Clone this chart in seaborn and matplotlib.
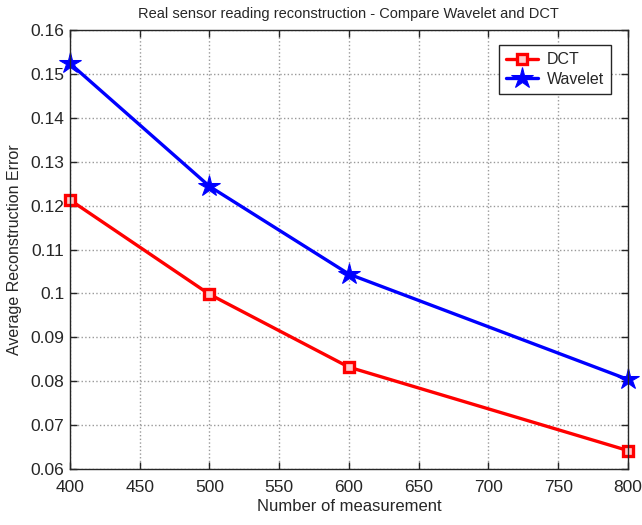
import matplotlib
matplotlib.use("Agg")
import matplotlib.pyplot as plt
import matplotlib.ticker as mticker
import pandas as pd
import seaborn as sns

measurements = [400, 500, 600, 800]
dct_error = [0.1213, 0.0998, 0.0832, 0.0642]
wavelet_error = [0.1524, 0.1244, 0.1044, 0.0804]

sns.set_style("ticks")
plt.rcParams['font.family'] = ['Liberation Sans', 'DejaVu Sans']

df_dct = pd.DataFrame({'m': measurements, 'err': dct_error})
df_wav = pd.DataFrame({'m': measurements, 'err': wavelet_error})

fig = plt.figure(figsize=(6.42, 5.25), dpi=100)
ax = fig.add_axes([0.109, 0.1067, 0.869, 0.836])

sns.lineplot(data=df_dct, x='m', y='err', ax=ax, color='red', lw=2.4,
             marker='s', markersize=7, markerfacecolor='#ffcccc',
             markeredgecolor='red', markeredgewidth=2.4, label='DCT', clip_on=False)
sns.lineplot(data=df_wav, x='m', y='err', ax=ax, color='blue', lw=2.4,
             marker='*', markersize=16, markerfacecolor='blue',
             markeredgecolor='blue', label='Wavelet', clip_on=False)

ax.set_xlim(400, 800)
ax.set_ylim(0.06, 0.16)
ax.set_xticks(range(400, 801, 50))
ax.set_yticks([0.06 + 0.01 * i for i in range(11)])
ax.yaxis.set_major_formatter(mticker.FuncFormatter(lambda v, p: f"{v:g}"))
ax.tick_params(direction='in', top=True, right=True, labelsize=12.5, length=5,
               width=1, colors='#262626')
ax.tick_params(axis='x', pad=8)
ax.tick_params(axis='y', pad=4)
ax.grid(True, linestyle=':', color='#999999', linewidth=1)
for s in ax.spines.values():
    s.set_color('#262626')
    s.set_linewidth(1)

ax.set_xlabel('Number of measurement', fontsize=12, labelpad=3)
ax.set_ylabel('Average Reconstruction Error', fontsize=11.5, labelpad=6)
ax.set_title('Real sensor reading reconstruction - Compare Wavelet and DCT',
             fontsize=10.5, pad=9)

leg = ax.legend(loc='upper right', bbox_to_anchor=(0.9695, 0.966), fontsize=11.5,
                fancybox=False, edgecolor='#262626', framealpha=1,
                handlelength=2.0, borderpad=0.45, labelspacing=0.3,
                borderaxespad=0, handletextpad=0.5)
leg.get_frame().set_linewidth(1)

fig.savefig('out.png', dpi=100)
